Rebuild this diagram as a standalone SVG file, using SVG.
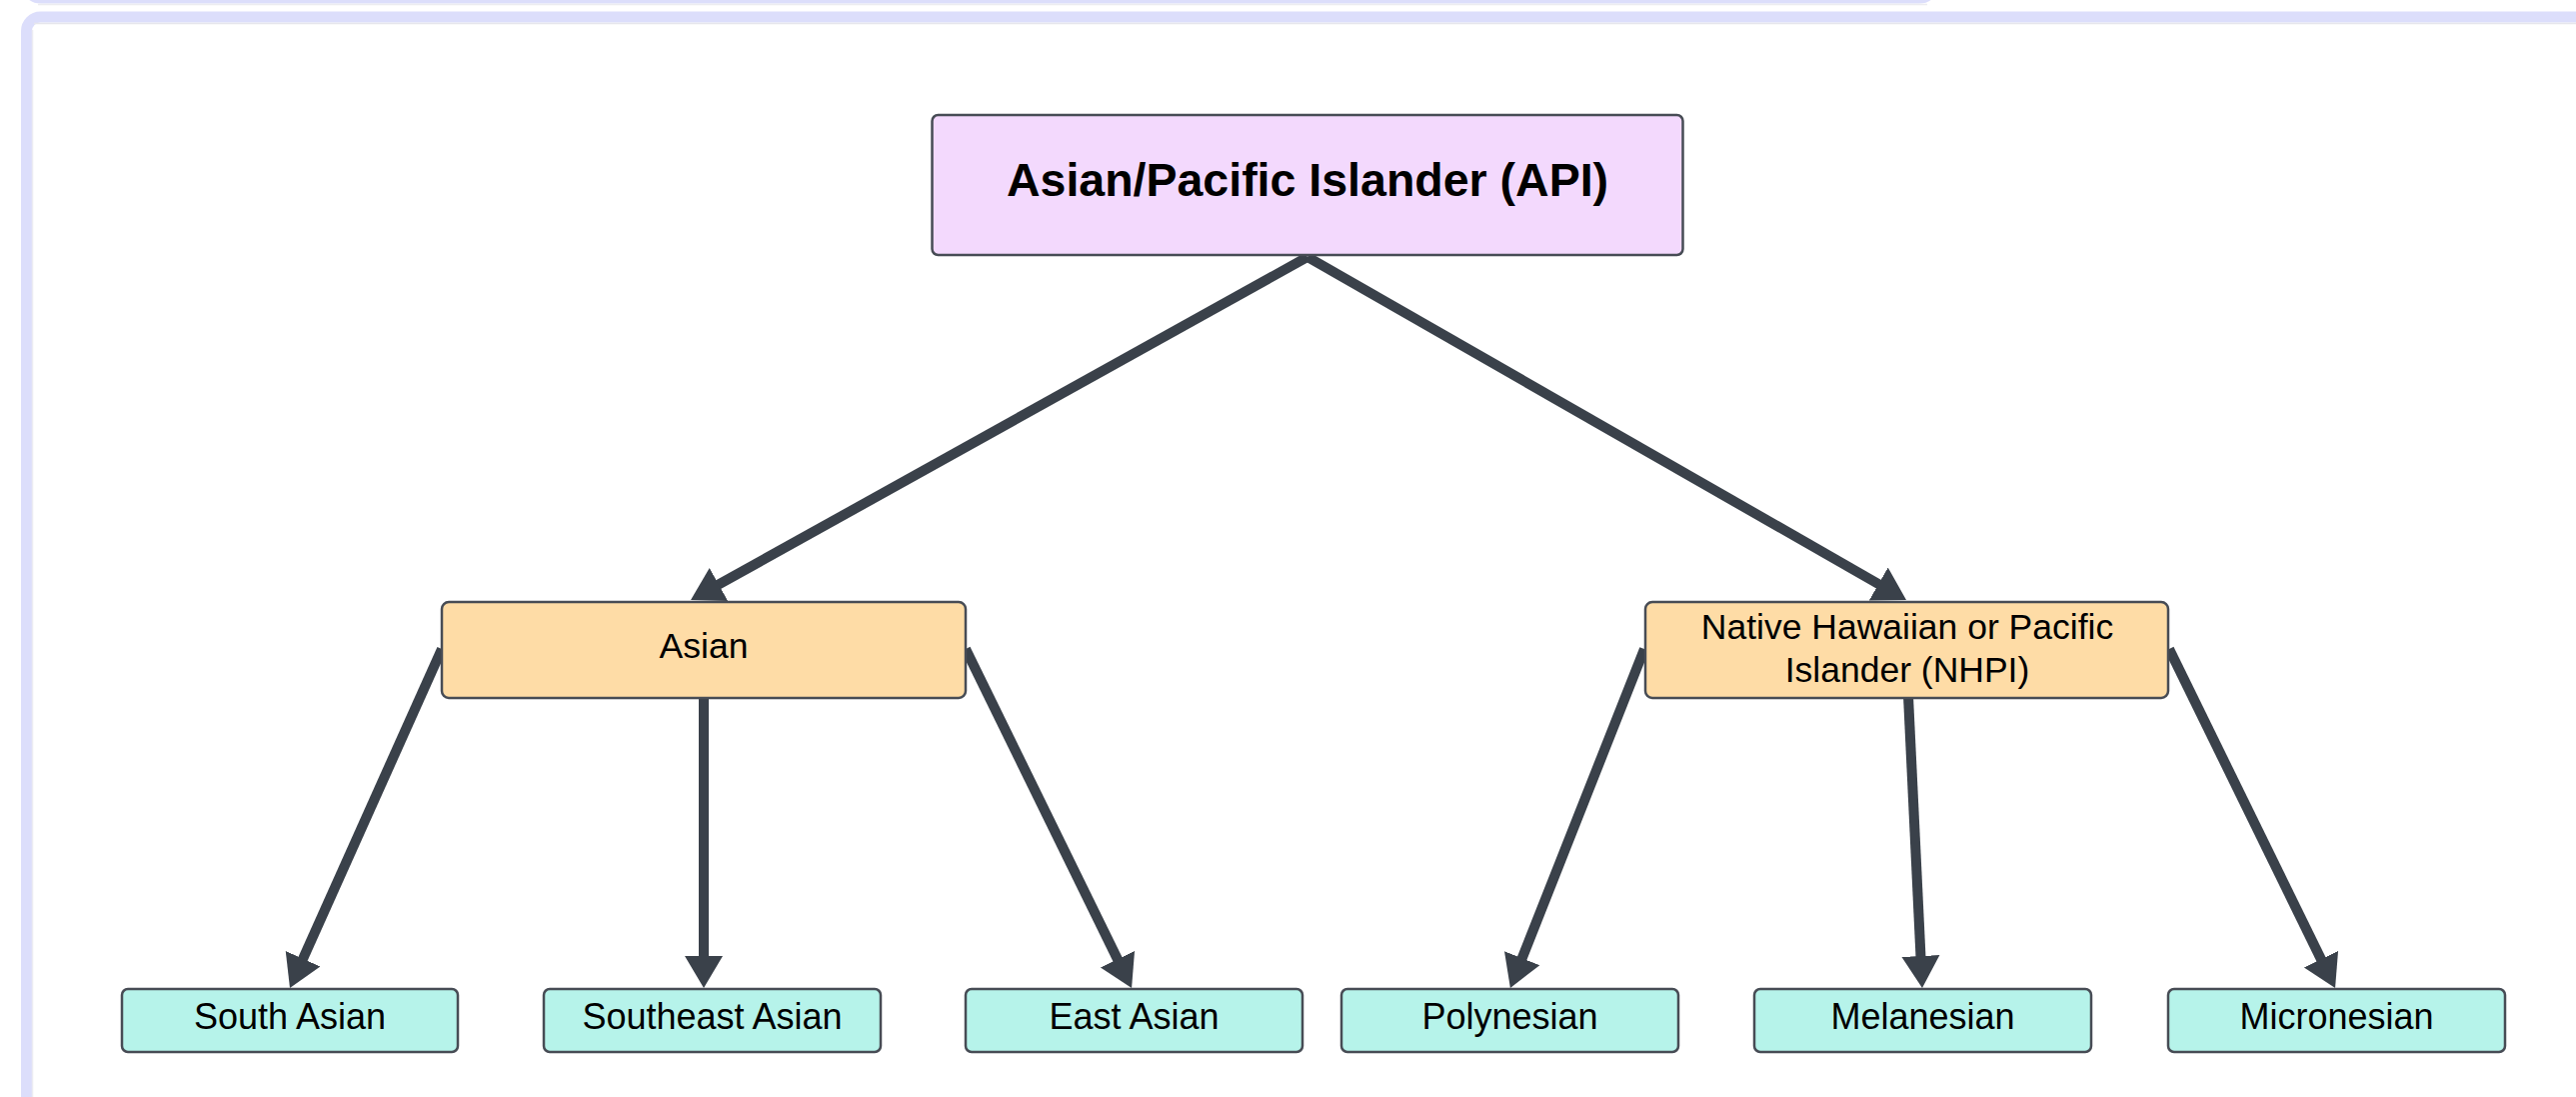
<svg xmlns="http://www.w3.org/2000/svg" width="2577" height="1097" viewBox="0 0 2577 1097">
  <style>
    .frame { fill: none; stroke: #dcdefb; stroke-width: 11; }
    .conn { stroke: #3a414a; stroke-width: 10; fill: none; marker-end: url(#arrow); }
    .box { stroke: #474c55; stroke-width: 2.5; }
    .top { fill: #f3d9fd; }
    .mid { fill: #fedca6; }
    .leaf { fill: #b6f3ea; }
    text { font-family: "Liberation Sans", Arial, sans-serif; fill: #000000; text-anchor: middle; }
    .t-top { font-size: 46.5px; font-weight: bold; }
    .t-mid { font-size: 35.5px; }
    .t-leaf { font-size: 36px; }
  </style>
  <defs>
    <marker id="arrow" markerUnits="userSpaceOnUse" markerWidth="40" markerHeight="40" refX="20" refY="20" orient="auto" viewBox="0 0 40 40">
      <path d="M0,1 L32,20 L0,39 Z" fill="#3a414a"/>
    </marker>
  </defs>

  <rect x="0" y="0" width="2577" height="1097" fill="#ffffff"/>

  <!-- previous frame bottom edge -->
  <rect class="frame" x="26.5" y="-1200" width="1908" height="1198" rx="14"/>
  <line x1="38" y1="4.5" x2="1928" y2="4.5" stroke="#ececf0" stroke-width="1.5"/>

  <!-- current frame -->
  <rect x="26.5" y="17" width="2620" height="1200" rx="14" fill="#ffffff" stroke="#dcdefb" stroke-width="11"/>
  <line x1="34" y1="23.5" x2="2577" y2="23.5" stroke="#e6e6ec" stroke-width="1.5"/>
  <line x1="32.5" y1="30" x2="32.5" y2="1097" stroke="#ececf2" stroke-width="1.5"/>

  <g id="connectors">
    <line class="conn" x1="1308" y1="257" x2="701.5" y2="594.2"/>
    <line class="conn" x1="1308" y1="257" x2="1896.6" y2="594.0"/>
    <line class="conn" x1="442" y1="649" x2="294.9" y2="977.0"/>
    <line class="conn" x1="704" y1="696" x2="704" y2="976"/>
    <line class="conn" x1="966" y1="649" x2="1126.8" y2="977.2"/>
    <line class="conn" x1="1645" y1="649" x2="1515.3" y2="976.8"/>
    <line class="conn" x1="1909" y1="696" x2="1922.4" y2="976"/>
    <line class="conn" x1="2170" y1="649" x2="2330.8" y2="977.2"/>
  </g>

  <g id="node-api">
    <rect class="box top" x="932.5" y="115" width="751" height="140" rx="6"/>
    <text class="t-top" x="1308" y="196">Asian/Pacific Islander (API)</text>
  </g>

  <g id="node-asian">
    <rect class="box mid" x="442" y="602" width="524" height="96" rx="7"/>
    <text class="t-mid" x="704" y="658">Asian</text>
  </g>

  <g id="node-nhpi">
    <rect class="box mid" x="1646" y="602" width="523" height="96" rx="7"/>
    <text class="t-mid" x="1908" y="639">Native Hawaiian or Pacific</text>
    <text class="t-mid" x="1908" y="682">Islander (NHPI)</text>
  </g>

  <g id="node-south-asian">
    <rect class="box leaf" x="122" y="989" width="336" height="63" rx="6"/>
    <text class="t-leaf" x="290" y="1029">South Asian</text>
  </g>

  <g id="node-southeast-asian">
    <rect class="box leaf" x="544" y="989" width="337" height="63" rx="6"/>
    <text class="t-leaf" x="712.5" y="1029">Southeast Asian</text>
  </g>

  <g id="node-east-asian">
    <rect class="box leaf" x="966" y="989" width="337" height="63" rx="6"/>
    <text class="t-leaf" x="1134.5" y="1029">East Asian</text>
  </g>

  <g id="node-polynesian">
    <rect class="box leaf" x="1342" y="989" width="337" height="63" rx="6"/>
    <text class="t-leaf" x="1510.5" y="1029">Polynesian</text>
  </g>

  <g id="node-melanesian">
    <rect class="box leaf" x="1755" y="989" width="337" height="63" rx="6"/>
    <text class="t-leaf" x="1923.5" y="1029">Melanesian</text>
  </g>

  <g id="node-micronesian">
    <rect class="box leaf" x="2169" y="989" width="337" height="63" rx="6"/>
    <text class="t-leaf" x="2337.5" y="1029">Micronesian</text>
  </g>
</svg>
